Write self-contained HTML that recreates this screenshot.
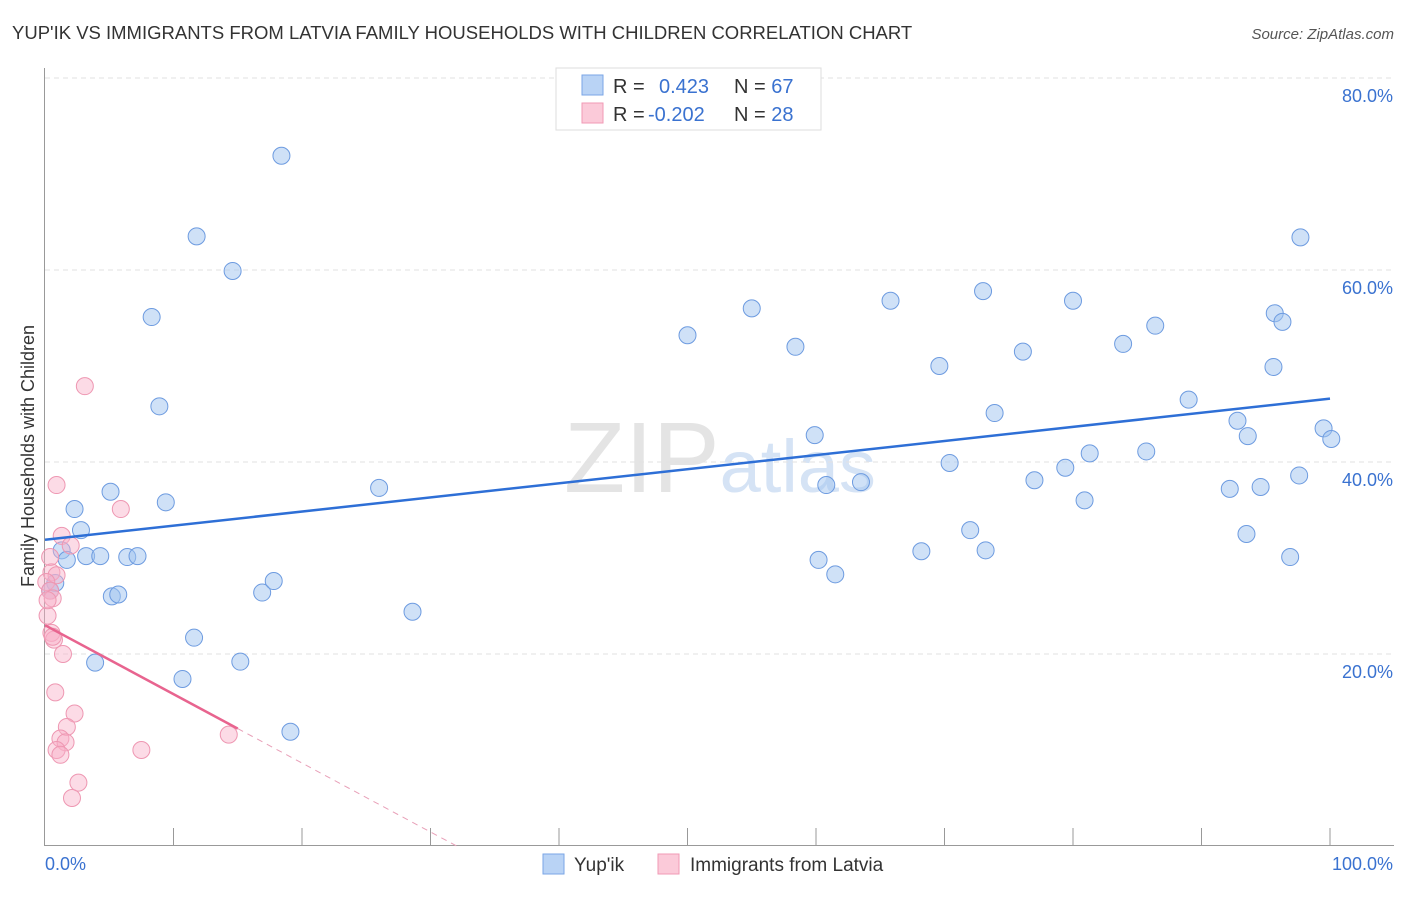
<!DOCTYPE html>
<html><head><meta charset="utf-8"><style>
body{margin:0;background:#fff;font-family:"Liberation Sans",sans-serif;}
svg text{font-family:"Liberation Sans",sans-serif;}
</style></head><body>
<svg id="c" width="1406" height="892" xmlns="http://www.w3.org/2000/svg">
<text x="12" y="39" font-size="18.5" fill="#333">YUP'IK VS IMMIGRANTS FROM LATVIA FAMILY HOUSEHOLDS WITH CHILDREN CORRELATION CHART</text>
<text x="1394" y="39" font-size="15" fill="#555" font-style="italic" text-anchor="end">Source: ZipAtlas.com</text>
<text x="720" y="492" font-size="100" fill="#e4e4e4" text-anchor="middle" font-family="Liberation Serif">ZIP<tspan fill="#d5e3f5" font-family="Liberation Sans" font-size="74">atlas</tspan></text>
<g id="grid"></g>
<g id="axes"></g>
<g id="pts"></g>
<g id="trend"></g>
<text transform="translate(34,456) rotate(-90)" font-size="18" fill="#333" text-anchor="middle">Family Households with Children</text>
<g>
<rect x="556" y="68" width="265" height="62" fill="#fff" stroke="#ddd"/>
<rect x="582" y="75" width="21" height="20" fill="#b9d3f5" stroke="#7aa6e6"/>
<rect x="582" y="103" width="21" height="20" fill="#fbcad9" stroke="#f09ab5"/>
<text x="613" y="93" font-size="20" fill="#333">R = <tspan fill="#3a72d0" x="659">0.423</tspan><tspan fill="#333" x="734">N = </tspan><tspan fill="#3a72d0">67</tspan></text>
<text x="613" y="121" font-size="20" fill="#333">R = <tspan fill="#3a72d0" x="648">-0.202</tspan><tspan fill="#333" x="734">N = </tspan><tspan fill="#3a72d0">28</tspan></text>
</g>
<g>
<rect x="543" y="854" width="21" height="20" fill="#b9d3f5" stroke="#7aa6e6"/>
<text x="574" y="871" font-size="19" fill="#333">Yup'ik</text>
<rect x="658" y="854" width="21" height="20" fill="#fbcad9" stroke="#f09ab5"/>
<text x="690" y="871" font-size="19" fill="#333">Immigrants from Latvia</text>
</g>
</svg>
<script>
const blueX=[18.4,11.8,14.6,8.3,8.9,5.1,2.3,9.4,2.8,1.3,1.7,3.2,4.3,6.4,7.2,5.2,5.7,0.8,0.4,3.9,11.6,10.7,15.2,16.9,17.8,26.0,28.6,19.1,50.0,55.0,58.4,59.9,60.8,60.2,61.5,63.5,65.8,69.6,70.4,72.0,73.0,73.2,73.9,68.2,76.1,77.0,79.4,80.0,80.9,81.3,83.9,85.7,86.4,89.0,92.2,92.8,93.5,93.6,94.6,95.6,95.7,96.3,96.9,97.6,97.7,99.5,100.1];
const blueY=[71.9,63.5,59.9,55.1,45.8,36.9,35.1,35.8,32.9,30.8,29.8,30.2,30.2,30.1,30.2,26.0,26.2,27.4,26.6,19.1,21.7,17.4,19.2,26.4,27.6,37.3,24.4,11.9,53.2,56.0,52.0,42.8,37.6,29.8,28.3,37.9,56.8,50.0,39.9,32.9,57.8,30.8,45.1,30.7,51.5,38.1,39.4,56.8,36.0,40.9,52.3,41.1,54.2,46.5,37.2,44.3,32.5,42.7,37.4,49.9,55.5,54.6,30.1,38.6,63.4,43.5,42.4];
const pinkX=[3.1,0.9,5.9,1.3,2.0,0.4,0.5,0.9,0.1,0.4,0.6,0.2,0.5,0.7,1.4,0.8,2.3,1.7,1.2,1.6,0.9,1.2,7.5,14.3,2.6,2.1,0.2,0.6];
const pinkY=[47.9,37.6,35.1,32.3,31.3,30.1,28.5,28.2,27.5,26.6,25.8,24.0,22.2,21.5,20.0,16.0,13.8,12.4,11.2,10.8,10.0,9.5,10.0,11.6,6.6,5.0,25.6,21.8];
const yTicks=[20,40,60,80];
const xLabels=["0.0%","100.0%"];
const blueTrend=[31.9,46.6];
const pinkTrend=[23.0,-0.718];
const X0=45,X1=1330,Y0=846,PY=9.6;
const sx=v=>X0+(X1-X0)*v/100, sy=v=>Y0-v*PY;
const NS="http://www.w3.org/2000/svg";
function mk(p,t,a){const e=document.createElementNS(NS,t);for(const k in a)e.setAttribute(k,a[k]);document.getElementById(p).appendChild(e);return e;}
yTicks.forEach(t=>{
 const l=mk('grid','line',{x1:45,x2:1394,y1:sy(t),y2:sy(t),stroke:'#e2e2e2','stroke-dasharray':'5,4'});
 
 
 const tx=mk('grid','text',{x:1393,y:sy(t)+24,'font-size':18,fill:'#3a72d0','text-anchor':'end'});tx.textContent=t+'.0%';
 
 
});
mk('axes','line',{x1:44.5,x2:44.5,y1:68,y2:846,stroke:'#999'});
const xa=mk('axes','line',{x1:44,x2:1394,y1:845.5,y2:845.5,stroke:'#999'});


for(let i=1;i<=10;i++){mk('axes','line',{x1:sx(i*10),x2:sx(i*10),y1:828,y2:846,stroke:'#999'});}
const xl0=mk('axes','text',{x:45,y:870,'font-size':18,fill:'#3a72d0'});xl0.textContent=xLabels[0];


const xl1=mk('axes','text',{x:1393,y:870,'font-size':18,fill:'#3a72d0','text-anchor':'end'});xl1.textContent=xLabels[1];


blueX.forEach((v,i)=>{const c=mk('pts','circle',{cx:sx(v),cy:sy(blueY[i]),r:8.5,fill:'rgba(160,195,240,0.5)',stroke:'#6d9be0','stroke-width':1});
 
 });
pinkX.forEach((v,i)=>{const c=mk('pts','circle',{cx:sx(v),cy:sy(pinkY[i]),r:8.5,fill:'rgba(248,175,200,0.45)',stroke:'#ee97b2','stroke-width':1});
 
 });
const bt=mk('trend','line',{x1:sx(0),y1:sy(blueTrend[0]),x2:sx(100),y2:sy(blueTrend[1]),stroke:'#2e6fd6','stroke-width':2.5});


const pe=15,pz=-pinkTrend[0]/pinkTrend[1];
const pt=mk('trend','line',{x1:sx(0),y1:sy(pinkTrend[0]),x2:sx(pe),y2:sy(pinkTrend[0]+pinkTrend[1]*pe),stroke:'#e8648f','stroke-width':2.5});


const pd=mk('trend','line',{x1:sx(pe),y1:sy(pinkTrend[0]+pinkTrend[1]*pe),x2:sx(pz),y2:sy(0),stroke:'#e8a0b8','stroke-width':1,'stroke-dasharray':'6,5'});


</script>
</body></html>
